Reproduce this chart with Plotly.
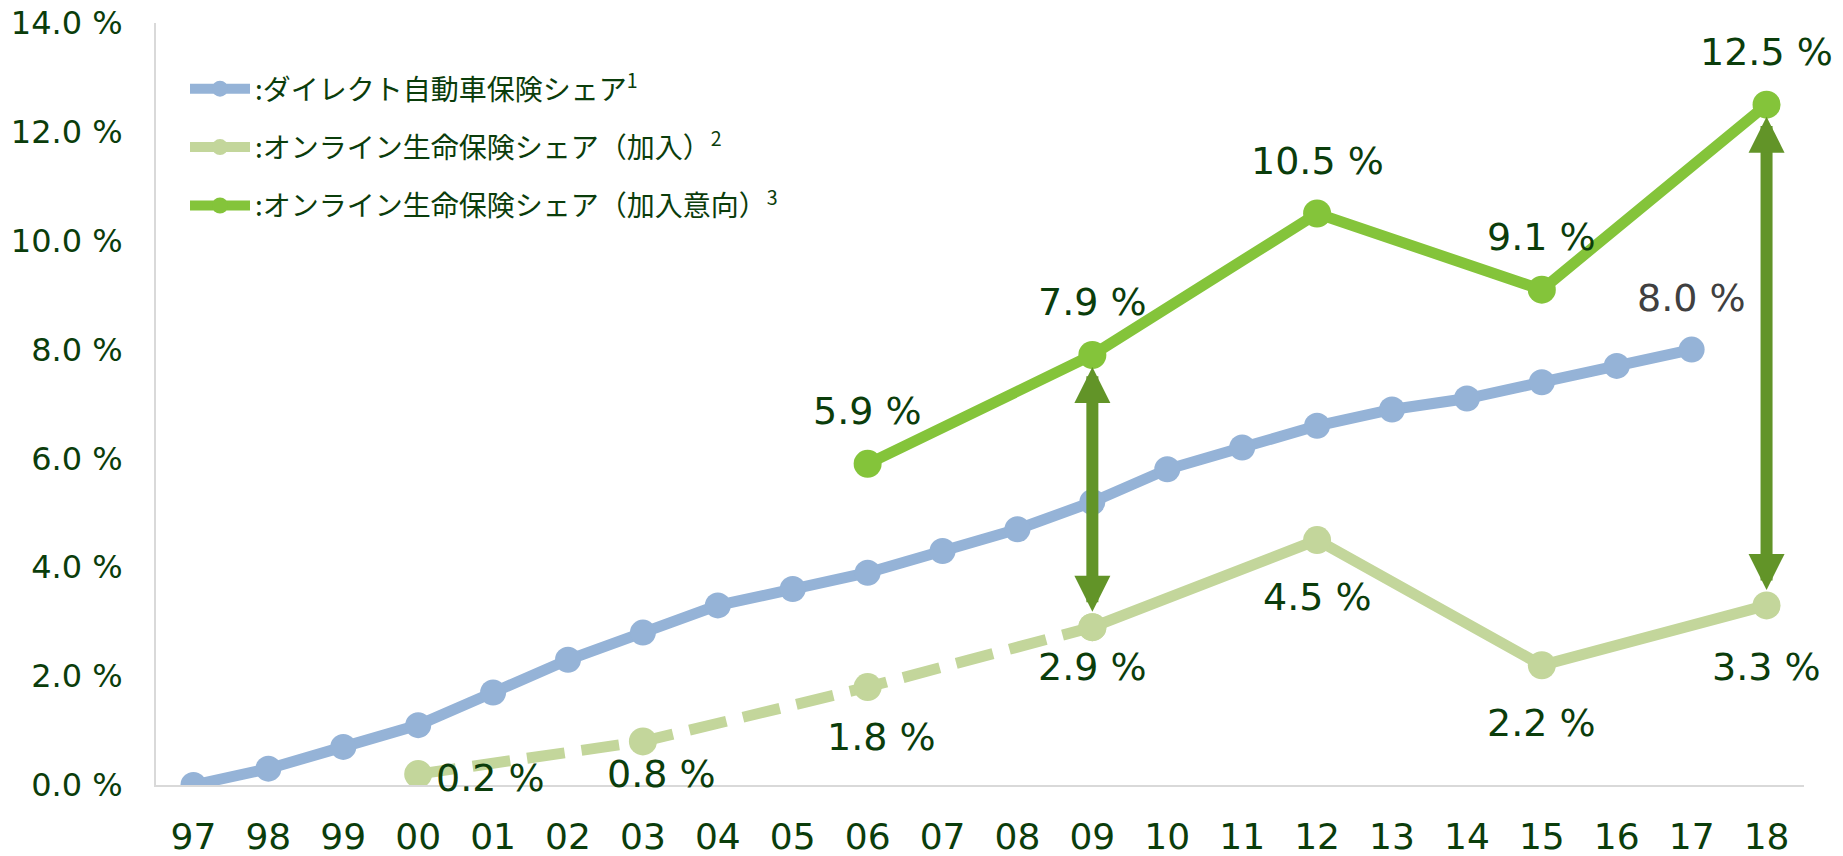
import plotly.graph_objects as go

# ---- data -------------------------------------------------------------
years = ["97", "98", "99", "00", "01", "02", "03", "04", "05", "06", "07",
         "08", "09", "10", "11", "12", "13", "14", "15", "16", "17", "18"]

direct_auto_years = years[:-1]
direct_auto_share = [0.0, 0.3, 0.7, 1.1, 1.7, 2.3, 2.8, 3.3, 3.6, 3.9, 4.3,
                     4.7, 5.2, 5.8, 6.2, 6.6, 6.9, 7.1, 7.4, 7.7, 8.0]

online_join_years = ["00", "03", "06", "09", "12", "15", "18"]
online_join_share = [0.2, 0.8, 1.8, 2.9, 4.5, 2.2, 3.3]

online_intent_years = ["06", "09", "12", "15", "18"]
online_intent_share = [5.9, 7.9, 10.5, 9.1, 12.5]

gap_years = ["09", "18"]          # years where the intent/actual gap is marked
dashed_until = "09"               # the "加入" series is dashed up to this year

names = [":ダイレクト自動車保険シェア<sup>1</sup>",
         ":オンライン生命保険シェア（加入）<sup>2</sup>",
         ":オンライン生命保険シェア（加入意向）<sup>3</sup>"]

# ---- style ------------------------------------------------------------
BLUE = "#95b3d7"
LIGHT_GREEN = "#c3d69b"
GREEN = "#84c43a"
ARROW = "#629428"
TEXT = "#0b3d0b"
GREY_TEXT = "#404040"
NUM_FONT = "DejaVu Sans"
JP_FONT = "Noto Sans CJK JP"

W, H = 1843, 856
pos = {y: i for i, y in enumerate(years)}


def xs(labels):
    return [pos[y] for y in labels]


fig = go.Figure()

# direct auto insurance share
fig.add_trace(go.Scatter(
    x=xs(direct_auto_years), y=direct_auto_share, name=names[0],
    mode="lines+markers", legendgroup="auto",
    line=dict(color=BLUE, width=11), marker=dict(color=BLUE, size=26),
))

# online life insurance share (actual) - dashed early part, solid later part
split = online_join_years.index(dashed_until)
fig.add_trace(go.Scatter(
    x=xs(online_join_years[:split + 1]), y=online_join_share[:split + 1],
    mode="lines+markers", showlegend=False, legendgroup="join",
    line=dict(color=LIGHT_GREEN, width=11, dash="38px,17px"),
    marker=dict(color=LIGHT_GREEN, size=28),
))
fig.add_trace(go.Scatter(
    x=xs(online_join_years[split:]), y=online_join_share[split:], name=names[1],
    mode="lines+markers", legendgroup="join",
    line=dict(color=LIGHT_GREEN, width=11), marker=dict(color=LIGHT_GREEN, size=28),
))

# online life insurance share (intent)
fig.add_trace(go.Scatter(
    x=xs(online_intent_years), y=online_intent_share, name=names[2],
    mode="lines+markers", legendgroup="intent",
    line=dict(color=GREEN, width=11), marker=dict(color=GREEN, size=28),
))

# ---- value labels -----------------------------------------------------
def label(x, v, dx, dy, color):
    fig.add_annotation(
        x=pos[x], y=v, xref="x", yref="y", text=f"{v:.1f} %", showarrow=False,
        xshift=dx, yshift=dy, font=dict(family=NUM_FONT, size=38, color=color),
    )


label(direct_auto_years[-1], direct_auto_share[-1], 0, 52, GREY_TEXT)

join_offsets = [(72, -4), (19, -33), (14, -50), (0, -40), (0, -57), (0, -58), (0, -62)]
for yr, v, (dx, dy) in zip(online_join_years, online_join_share, join_offsets):
    label(yr, v, dx, dy, TEXT)

for yr, v in zip(online_intent_years, online_intent_share):
    label(yr, v, 0, 53, TEXT)

# ---- gap arrows between intent and actual -----------------------------
for yr in gap_years:
    hi = online_intent_share[online_intent_years.index(yr)]
    lo = online_join_share[online_join_years.index(yr)]
    fig.add_annotation(
        x=pos[yr], y=hi, ax=pos[yr], ay=lo, xref="x", yref="y", axref="x", ayref="y",
        text="", showarrow=True, arrowside="end+start",
        arrowhead=2, startarrowhead=2, arrowsize=0.6, startarrowsize=0.6,
        arrowwidth=12, arrowcolor=ARROW, standoff=12, startstandoff=14,
    )

# ---- layout -----------------------------------------------------------
fig.update_layout(
    width=W, height=H,
    margin=dict(l=156, r=39, t=23, b=71, autoexpand=False),
    paper_bgcolor="white", plot_bgcolor="white",
    showlegend=True,
    legend=dict(
        xref="container", yref="container",
        x=185 / W, y=1 - 64 / H, xanchor="left", yanchor="top",
        traceorder="grouped", tracegroupgap=19, itemwidth=60,
        font=dict(family=JP_FONT, size=28, color=TEXT),
        bgcolor="rgba(0,0,0,0)",
    ),
    xaxis=dict(
        range=[-0.5, len(years) - 0.5], tickmode="array",
        tickvals=list(range(len(years))), ticktext=years,
        showgrid=False, zeroline=False, showline=True, automargin=False,
        linecolor="#d9d9d9", linewidth=2, ticks="",
        ticklabelstandoff=19,
        tickfont=dict(family=NUM_FONT, size=36, color=TEXT),
    ),
    yaxis=dict(
        range=[0, 14], tickmode="array",
        tickvals=[0, 2, 4, 6, 8, 10, 12, 14],
        ticktext=[f"{v:.1f} %" for v in [0, 2, 4, 6, 8, 10, 12, 14]],
        showgrid=False, zeroline=False, showline=True, automargin=False,
        linecolor="#d9d9d9", linewidth=2, ticks="",
        ticklabelstandoff=25,
        tickfont=dict(family=NUM_FONT, size=32, color=TEXT),
    ),
)

fig.write_html("out.html")
